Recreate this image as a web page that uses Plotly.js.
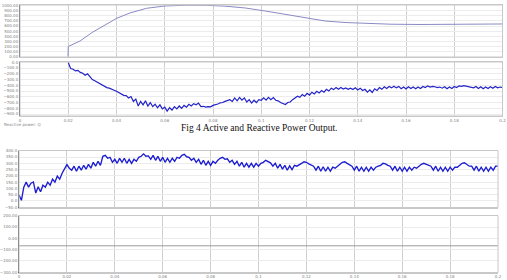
<!DOCTYPE html>
<html>
<head>
<meta charset="utf-8">
<script src="https://cdn.plot.ly/plotly-3.0.1.min.js"></script>
<style>html,body{margin:0;padding:0;background:#fff;}#chart{width:507px;height:280px;}</style>
</head>
<body>
<div id="chart"></div>
<script>
// ---- Panel 1: active power (smooth) ----
const activeTime = [0.0199, 0.02, 0.0249, 0.0298, 0.0401, 0.0456, 0.0525, 0.0601, 0.0684, 0.0767, 0.085, 0.0933, 0.1016, 0.1098, 0.1181, 0.1264, 0.1347, 0.143, 0.1534, 0.1658, 0.1782, 0.1907, 0.2];
const activeP = [0, 200, 308, 472, 753, 857, 949, 994, 1007, 1007, 990, 955, 896, 827, 759, 700, 670, 651, 637, 631, 631, 635, 641];

// ---- Panel 2: reactive power (noisy), sampled every 0.001 s from 0.02 s ----
const reactiveStart = 0.02;
const sampleStep = 0.001;
const reactiveQ = [
 -5,-110,-120,-150,-140,-175,-190,-225,-200,-250,
 -300,-320,-345,-370,-395,-410,-440,-450,-475,-485,
 -505,-530,-540,-575,-580,-620,-595,-680,-640,-760,
 -680,-740,-670,-760,-700,-770,-730,-790,-740,-810,
 -780,-850,-790,-830,-770,-810,-760,-800,-750,-780,
 -730,-760,-720,-740,-710,-770,-765,-780,-770,-775,
 -750,-740,-725,-705,-700,-680,-670,-650,-680,-620,
 -670,-610,-660,-620,-690,-650,-710,-660,-700,-650,
 -660,-620,-660,-610,-650,-615,-660,-670,-700,-720,
 -735,-700,-690,-650,-620,-590,-610,-560,-590,-540,
 -570,-520,-550,-505,-535,-490,-520,-470,-500,-450,
 -475,-440,-470,-440,-465,-445,-470,-450,-475,-445,
 -480,-450,-490,-470,-520,-480,-525,-460,-490,-440,
 -470,-425,-455,-420,-445,-415,-445,-420,-460,-430,
 -465,-425,-455,-430,-460,-430,-455,-420,-440,-410,
 -430,-420,-425,-440,-430,-450,-425,-460,-430,-455,
 -420,-440,-410,-420,-405,-415,-425,-430,-445,-420,
 -455,-425,-460,-430,-455,-425,-450,-420,-445,-430,
 -440
];

// ---- Panel 3: noisy output, sampled every 0.001 s from 0 s ----
const panel3Start = 0;
const panel3Values = [
 47,5,110,150,110,142,152,63,113,73,
 126,110,150,126,174,150,198,174,221,253,
 290,261,245,277,237,277,245,284,253,292,
 261,308,277,316,284,356,363,340,348,308,
 332,300,340,308,340,300,332,300,332,316,
 348,356,375,356,359,332,363,324,356,316,
 348,308,340,308,340,316,348,340,363,371,
 352,348,324,340,308,332,292,324,284,316,
 284,316,300,324,340,348,332,336,308,324,
 292,316,277,308,269,300,269,300,269,300,
 277,300,308,324,312,304,277,300,261,292,
 253,284,245,280,249,284,277,292,300,312,
 308,296,284,277,245,277,237,273,237,269,
 237,269,261,280,292,308,312,300,288,277,
 245,277,237,269,237,269,237,269,245,269,
 277,284,300,296,284,277,245,277,237,269,
 237,269,237,269,245,269,261,277,292,300,
 292,280,277,245,277,237,269,237,269,237,
 269,245,269,269,284,300,304,292,277,277,
 245,277,237,269,237,269,237,269,245,277,
 277
];

// ---- Panel 4: flat signal ----
const panel4Time = [0, 0.2];
const panel4Values = [-66, -66];

// ---- tick settings ----
const timeTicks = [0, 0.02, 0.04, 0.06, 0.08, 0.1, 0.12, 0.14, 0.16, 0.18, 0.2];
const captionText = 'Fig 4 Active and Reactive Power Output.';
const sideNote = 'Reactive power: Q';

const tickFont = {family: 'DejaVu Sans', size: 4, color: '#808080'};

function xAxis(domain, anchor, showLabels) {
  return {domain: domain, anchor: anchor, range: [0, 0.2], tickvals: timeTicks,
    showticklabels: showLabels, tickfont: tickFont, ticks: '', showgrid: true,
    gridcolor: '#cfcfcf', gridwidth: 1, zeroline: false, showline: true, mirror: true,
    linecolor: '#c8c8c8', linewidth: 1, fixedrange: true};
}
function yAxis(domain, anchor, range, dtick, fmt) {
  return {domain: domain, anchor: anchor, range: range, dtick: dtick, tick0: 0,
    tickformat: fmt, tickfont: tickFont, ticks: '', showgrid: true,
    gridcolor: '#ececec', gridwidth: 1, zeroline: false, showline: true, mirror: false,
    linecolor: '#555', linewidth: 1, fixedrange: true};
}

const topDom = [20/507, 502.5/507];
const botDom = [19/507, 498/507];

const traces = [
  {x: activeTime, y: activeP, xaxis: 'x', yaxis: 'y', type: 'scatter', mode: 'lines',
   line: {color: '#8a8ac4', width: 1}},
  {x0: reactiveStart, dx: sampleStep, y: reactiveQ, xaxis: 'x2', yaxis: 'y2', type: 'scatter', mode: 'lines',
   line: {color: '#2323c8', width: 1.2}},
  {x0: panel3Start, dx: sampleStep, y: panel3Values, xaxis: 'x3', yaxis: 'y3', type: 'scatter', mode: 'lines',
   line: {color: '#1c1cd0', width: 1.35}},
  {x: panel4Time, y: panel4Values, xaxis: 'x4', yaxis: 'y4', type: 'scatter', mode: 'lines',
   line: {color: '#9a9a9a', width: 1}}
];

const frame = (xa, ya) => ({type: 'rect', xref: xa + ' domain', yref: ya + ' domain', x0: 0, x1: 1, y0: 0, y1: 1,
  line: {color: '#c8c8c8', width: 1}, layer: 'above'});

const layout = {
  width: 507, height: 280, margin: {l: 0, r: 0, t: 0, b: 0},
  paper_bgcolor: '#fff', plot_bgcolor: '#fff', showlegend: false,
  xaxis: xAxis(topDom, 'y', false),
  yaxis: yAxis([1-57/280, 1-5/280], 'x', [-6, 1013], 100, '.2f'),
  xaxis2: xAxis(topDom, 'y2', true),
  yaxis2: yAxis([1-116/280, 1-62/280], 'x2', [-934, 5], 100, '.1f'),
  xaxis3: xAxis(botDom, 'y3', false),
  yaxis3: yAxis([1-207.5/280, 1-150.5/280], 'x3', [-52, 402], 50, '.1f'),
  xaxis4: xAxis(botDom, 'y4', true),
  yaxis4: yAxis([1-272.5/280, 1-215.5/280], 'x4', [-302, 202], 100, '.2f'),
  shapes: [frame('x', 'y'), frame('x2', 'y2'), frame('x3', 'y3'), frame('x4', 'y4')],
  annotations: [
    {text: captionText, xref: 'paper', yref: 'paper', x: 258.5/507, y: 1-128.5/280,
     xanchor: 'center', yanchor: 'middle', showarrow: false,
     font: {family: 'Liberation Serif', size: 9.5, color: '#111'}},
    {text: sideNote, xref: 'paper', yref: 'paper', x: 2/507, y: 1-124.5/280,
     xanchor: 'left', yanchor: 'middle', showarrow: false,
     font: {family: 'DejaVu Sans', size: 4, color: '#888'}}
  ]
};

Plotly.newPlot('chart', traces, layout, {displayModeBar: false, staticPlot: true});
</script>
</body>
</html>
